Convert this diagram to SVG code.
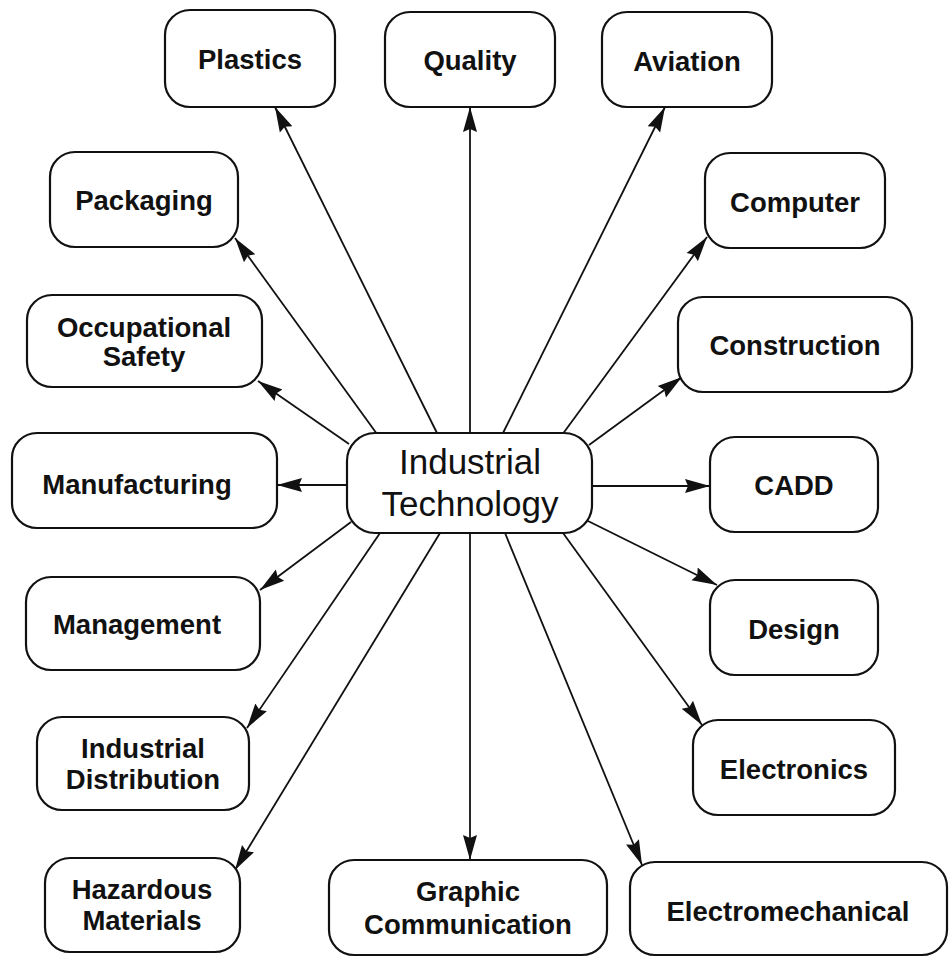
<svg xmlns="http://www.w3.org/2000/svg" width="950" height="957" viewBox="0 0 950 957">
<defs>
<style>
.box{fill:#fff;stroke:#111;stroke-width:2.2}
.lbl{font-family:"Liberation Sans",Arial,sans-serif;font-weight:bold;font-size:27.5px;fill:#111;text-anchor:middle}
.ctr{font-family:"Liberation Sans",Arial,sans-serif;font-size:35px;fill:#111;text-anchor:middle}
.conn{stroke:#111;stroke-width:1.8;fill:none;marker-end:url(#ah)}
</style>
<marker id="ah" markerUnits="userSpaceOnUse" markerWidth="26" markerHeight="16" refX="25" refY="8" orient="auto">
<path d="M0,1 L25,8 L0,15 L3,8 z" fill="#111"/>
</marker>
</defs>
<rect width="950" height="957" fill="#fff"/>
<g id="connectors">
<line class="conn" x1="437" y1="433" x2="275" y2="107"/>
<line class="conn" x1="470" y1="433" x2="470" y2="107"/>
<line class="conn" x1="503" y1="433" x2="665" y2="107"/>
<line class="conn" x1="562" y1="435" x2="707" y2="237"/>
<line class="conn" x1="589" y1="445" x2="682" y2="377"/>
<line class="conn" x1="592" y1="486" x2="710" y2="486"/>
<line class="conn" x1="588" y1="521" x2="717" y2="585"/>
<line class="conn" x1="563" y1="533" x2="702" y2="725"/>
<line class="conn" x1="505" y1="533" x2="642" y2="865"/>
<line class="conn" x1="470" y1="533" x2="470" y2="860"/>
<line class="conn" x1="440" y1="533" x2="235" y2="870"/>
<line class="conn" x1="380" y1="533" x2="247" y2="728"/>
<line class="conn" x1="351" y1="522" x2="260" y2="590"/>
<line class="conn" x1="347" y1="485" x2="277" y2="485"/>
<line class="conn" x1="349" y1="444" x2="258" y2="381"/>
<line class="conn" x1="377" y1="434" x2="235" y2="238"/>
</g>
<g id="center">
<rect class="box" x="347" y="433" width="245" height="100" rx="28"/>
<text class="ctr" x="470" y="474">Industrial</text>
<text class="ctr" x="470" y="516">Technology</text>
</g>
<g id="plastics"><rect class="box" x="165" y="10" width="170" height="97" rx="25"/><text class="lbl" x="250" y="69">Plastics</text></g>
<g id="quality"><rect class="box" x="385" y="12" width="170" height="95" rx="25"/><text class="lbl" x="470" y="70">Quality</text></g>
<g id="aviation"><rect class="box" x="602" y="12" width="170" height="95" rx="25"/><text class="lbl" x="687" y="71">Aviation</text></g>
<g id="packaging"><rect class="box" x="50" y="152" width="188" height="95" rx="25"/><text class="lbl" x="144" y="210">Packaging</text></g>
<g id="computer"><rect class="box" x="705" y="153" width="180" height="95" rx="25"/><text class="lbl" x="795" y="212">Computer</text></g>
<g id="occupational-safety"><rect class="box" x="27" y="295" width="235" height="92" rx="25"/><text class="lbl" x="144" y="337">Occupational</text><text class="lbl" x="144" y="366">Safety</text></g>
<g id="construction"><rect class="box" x="678" y="297" width="234" height="95" rx="25"/><text class="lbl" x="795" y="355">Construction</text></g>
<g id="manufacturing"><rect class="box" x="12" y="433" width="265" height="95" rx="25"/><text class="lbl" x="137" y="494">Manufacturing</text></g>
<g id="cadd"><rect class="box" x="710" y="437" width="168" height="95" rx="25"/><text class="lbl" x="794" y="495">CADD</text></g>
<g id="management"><rect class="box" x="26" y="577" width="234" height="93" rx="25"/><text class="lbl" x="137" y="634">Management</text></g>
<g id="design"><rect class="box" x="710" y="580" width="168" height="95" rx="25"/><text class="lbl" x="794" y="639">Design</text></g>
<g id="industrial-distribution"><rect class="box" x="37" y="717" width="212" height="93" rx="25"/><text class="lbl" x="143" y="758">Industrial</text><text class="lbl" x="143" y="789">Distribution</text></g>
<g id="electronics"><rect class="box" x="693" y="720" width="202" height="95" rx="25"/><text class="lbl" x="794" y="779">Electronics</text></g>
<g id="hazardous-materials"><rect class="box" x="45" y="858" width="195" height="94" rx="25"/><text class="lbl" x="142" y="899">Hazardous</text><text class="lbl" x="142" y="930">Materials</text></g>
<g id="graphic-communication"><rect class="box" x="329" y="860" width="278" height="95" rx="25"/><text class="lbl" x="468" y="901">Graphic</text><text class="lbl" x="468" y="934">Communication</text></g>
<g id="electromechanical"><rect class="box" x="630" y="862" width="317" height="93" rx="25"/><text class="lbl" x="788" y="921">Electromechanical</text></g>
</svg>
